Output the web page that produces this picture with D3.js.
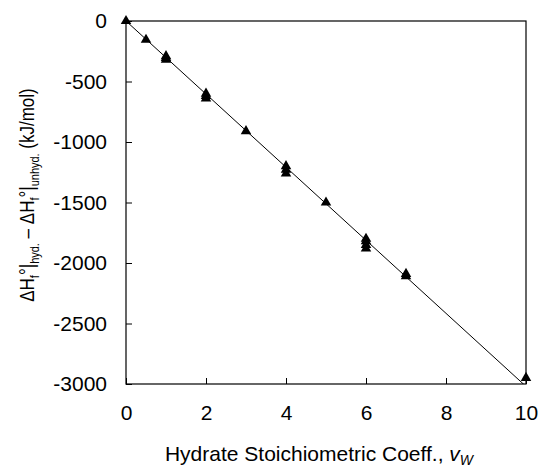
<!DOCTYPE html>
<html>
<head>
<meta charset="utf-8">
<script src="https://cdn.jsdelivr.net/npm/d3@7"></script>
<style>
  body { margin: 0; background: #fff; }
  svg { display: block; font-family: "Liberation Sans", Arial, sans-serif; }
</style>
</head>
<body>
<svg width="539" height="470"></svg>
<script>
// measured points (hydrate water coeff vs enthalpy difference, kJ/mol)
var xVals = [0, 0.5, 1, 1, 1, 2, 2, 2, 3, 4, 4, 4, 5, 6, 6, 6, 6, 7, 7, 10];
var yVals = [0, -155, -290, -305, -320, -600, -620, -640, -910, -1200, -1230, -1260, -1500, -1800, -1820, -1850, -1880, -2090, -2110, -2950];
// fitted line through origin
var fitX = [0, 10];
var fitY = [0, -3020];
var xTicks = [0, 2, 4, 6, 8, 10];
var yTicks = [0, -500, -1000, -1500, -2000, -2500, -3000];

var svgWidth = 539, svgHeight = 470;
var margin = { top: 21, right: 13, bottom: 86, left: 126 };
var width = svgWidth - margin.left - margin.right;
var height = svgHeight - margin.top - margin.bottom;
var fs = "21px";

var svg = d3.select("svg");
var g = svg.append("g")
  .attr("transform", "translate(" + margin.left + "," + margin.top + ")");

var x = d3.scaleLinear().domain([0, 10]).range([0, width]);
var y = d3.scaleLinear().domain([-3000, 0]).range([height, 0]);

svg.append("defs").append("clipPath").attr("id", "plot")
  .append("rect").attr("width", width).attr("height", height);

var plain = function(d) { return String(d); };

// axes
var xAxis = g.append("g")
  .attr("transform", "translate(0," + height + ")")
  .call(d3.axisBottom(x).tickValues(xTicks).tickFormat(plain).tickSizeInner(-6).tickSizeOuter(0).tickPadding(21));
var yAxis = g.append("g")
  .call(d3.axisLeft(y).tickValues(yTicks).tickFormat(plain).tickSizeInner(-6).tickSizeOuter(0).tickPadding(19));

[xAxis, yAxis].forEach(function(a) {
  a.select(".domain").remove();
  a.selectAll("line").attr("stroke", "#000").attr("stroke-width", 1);
  a.selectAll("text").attr("fill", "#000").style("font-size", fs)
    .style("font-family", "'Liberation Sans', Arial, sans-serif");
});

// frame
g.append("rect")
  .attr("width", width).attr("height", height)
  .attr("fill", "none").attr("stroke", "#000").attr("stroke-width", 1.2);

// fit line
var line = d3.line()
  .x(function(d) { return x(d[0]); })
  .y(function(d) { return y(d[1]); });
g.append("path")
  .datum(d3.zip(fitX, fitY))
  .attr("clip-path", "url(#plot)")
  .attr("fill", "none")
  .attr("stroke", "#000")
  .attr("stroke-width", 1)
  .attr("d", line);

// points
var tri = d3.symbol().type(d3.symbolTriangle).size(48);
g.selectAll(".pt")
  .data(d3.zip(xVals, yVals))
  .enter().append("path")
  .attr("class", "pt")
  .attr("transform", function(d) { return "translate(" + x(d[0]) + "," + y(d[1]) + ")"; })
  .attr("d", tri)
  .attr("fill", "#000");

// x title
var xt = svg.append("text")
  .attr("x", 319)
  .attr("y", 461)
  .attr("text-anchor", "middle")
  .style("font-size", fs);
xt.append("tspan").text("Hydrate Stoichiometric Coeff., ");
xt.append("tspan").style("font-style", "italic").text("v");
xt.append("tspan").style("font-style", "italic").style("font-size", "14px").attr("dy", 4).text("W");

// y title (glyphs a bit wider than tall, like the original)
var yt = svg.append("text")
  .attr("transform", "translate(34,195) scale(1.2,1) rotate(-90)")
  .attr("text-anchor", "middle")
  .style("font-size", "17px");
yt.append("tspan").text("ΔH");
yt.append("tspan").style("font-size", "11px").attr("dy", 4).text("f");
yt.append("tspan").attr("dy", -4).text("°|");
yt.append("tspan").style("font-size", "11px").attr("dy", 4).text("hyd.");
yt.append("tspan").attr("dy", -4).text(" – ΔH");
yt.append("tspan").style("font-size", "11px").attr("dy", 4).text("f");
yt.append("tspan").attr("dy", -4).text("°|");
yt.append("tspan").style("font-size", "11px").attr("dy", 4).text("unhyd.");
yt.append("tspan").attr("dy", -4).text(" (kJ/mol)");
</script>
</body>
</html>
